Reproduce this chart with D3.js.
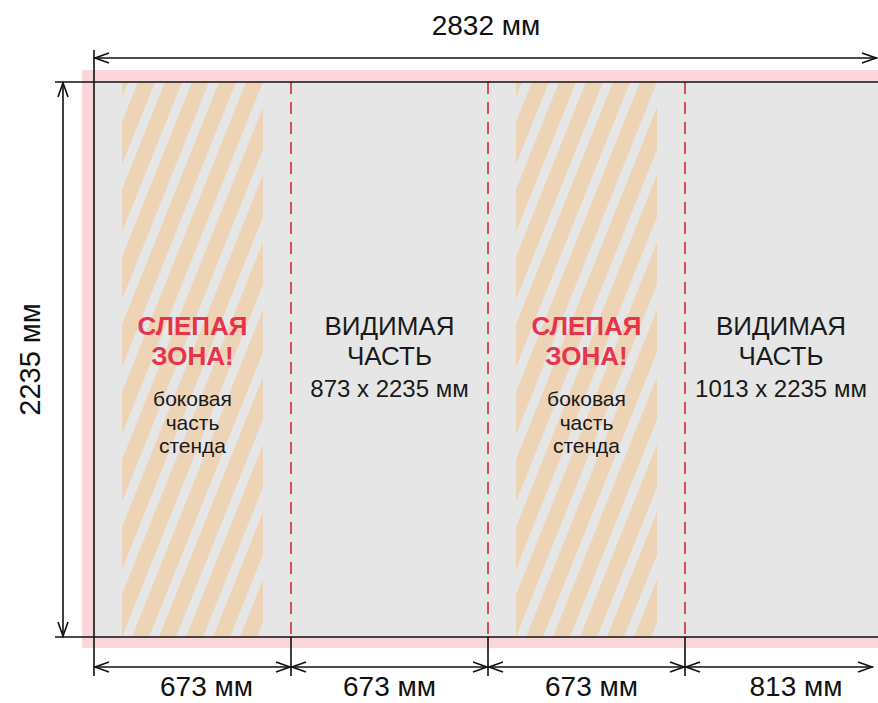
<!DOCTYPE html>
<html><head><meta charset="utf-8">
<script src="https://cdn.jsdelivr.net/npm/d3@7/dist/d3.min.js"></script>
<style>html,body{margin:0;padding:0;background:#fff;}svg{display:block;}</style>
</head><body>
<script>
// ---- data ----
const totalWidthMm = 2832;
const heightMm = 2235;
const panelKinds = ["blind", "visible", "blind", "visible"];
const panelWidthsMm = [673, 673, 673, 813];
const bottomLabels = ["673 мм", "673 мм", "673 мм", "813 мм"];
const topLabel = "2832 мм";
const sideLabel = "2235 мм";
const blindTitle = ["СЛЕПАЯ", "ЗОНА!"];
const blindSub = ["боковая", "часть", "стенда"];
const visibleTitle = ["ВИДИМАЯ", "ЧАСТЬ"];
const visibleSizes = ["873 x 2235 мм", "1013 x 2235 мм"];

// ---- layout ----
const W = 878, H = 703;
const FONT = "'Liberation Sans', 'Noto Sans', sans-serif";
const pxPerMm = 197 / 673;
const x = d3.scaleLinear().domain([0, totalWidthMm]).range([94, 94 + totalWidthMm * pxPerMm]);
const y = d3.scaleLinear().domain([0, heightMm]).range([82, 637]);
const xMax = W - 1;
const clipX = v => Math.min(v, xMax);

const svg = d3.select("body").append("svg").attr("width", W).attr("height", H);
const defs = svg.append("defs");

let acc = 0;
const panels = panelWidthsMm.map((w, i) => { const p = {i, kind: panelKinds[i], x0: acc, x1: acc + w}; acc += w; return p; });

// bleed (pink)
svg.append("rect").attr("x", x(0) - 12).attr("y", y(0) - 12)
  .attr("width", W - (x(0) - 12)).attr("height", y(heightMm) - y(0) + 23)
  .attr("fill", "#fad5da");
// board (gray)
svg.append("rect").attr("x", x(0)).attr("y", y(0))
  .attr("width", W - x(0)).attr("height", y(heightMm) - y(0))
  .attr("fill", "#e6e6e6");

// stripes for blind zones
const inset = 28;
const slope = 0.4;
const period = 27, tanW = 17;
panels.filter(p => p.kind === "blind").forEach((p, k) => {
  const zx0 = x(p.x0) + inset, zx1 = x(p.x1) - inset;
  const top = y(0), bot = y(heightMm);
  const id = "clip" + k;
  defs.append("clipPath").attr("id", id).append("rect")
    .attr("x", zx0).attr("y", top).attr("width", zx1 - zx0).attr("height", bot - top);
  const g = svg.append("g").attr("clip-path", `url(#${id})`);
  const shift = (bot - top) * slope;
  const starts = d3.range(zx0 - period * 2, zx1 + shift + period, period);
  g.selectAll("polygon").data(starts).join("polygon")
    .attr("points", a => [[a + 16 - period, top], [a + 16 - period + tanW, top], [a + 16 - period + tanW - shift, bot], [a + 16 - period - shift, bot]].map(q => q.join(",")).join(" "))
    .attr("fill", "#eed4b7");
});

// dashed panel dividers
const dividers = panels.slice(1).map(p => p.x0);
svg.selectAll("line.div").data(dividers).join("line").attr("class", "div")
  .attr("x1", d => x(d)).attr("x2", d => x(d)).attr("y1", y(0)).attr("y2", y(heightMm))
  .attr("stroke", "#d42a35").attr("stroke-width", 1.6).attr("stroke-dasharray", "12,8");

// black edges
const lineG = svg.append("g").attr("stroke", "#111").attr("stroke-width", 1.6).attr("fill", "none");
lineG.append("line").attr("x1", 55).attr("x2", W).attr("y1", y(0)).attr("y2", y(0));
lineG.append("line").attr("x1", 55).attr("x2", W).attr("y1", y(heightMm)).attr("y2", y(heightMm));
lineG.append("line").attr("x1", x(0)).attr("x2", x(0)).attr("y1", 50).attr("y2", 676);
lineG.selectAll("line.tick").data(dividers).join("line").attr("class", "tick")
  .attr("x1", d => x(d)).attr("x2", d => x(d)).attr("y1", y(heightMm)).attr("y2", 676);

// arrows
function hArrow(xa, xb, yy) {
  lineG.append("line").attr("x1", xa).attr("x2", xb).attr("y1", yy).attr("y2", yy);
  lineG.append("path").attr("d", `M${xa + 15},${yy - 5}L${xa + 1},${yy}L${xa + 15},${yy + 5}`);
  lineG.append("path").attr("d", `M${xb - 15},${yy - 5}L${xb - 1},${yy}L${xb - 15},${yy + 5}`);
}
function vArrow(xx, ya, yb) {
  lineG.append("line").attr("x1", xx).attr("x2", xx).attr("y1", ya).attr("y2", yb);
  lineG.append("path").attr("d", `M${xx - 5},${ya + 15}L${xx},${ya + 1}L${xx + 5},${ya + 15}`);
  lineG.append("path").attr("d", `M${xx - 5},${yb - 15}L${xx},${yb - 1}L${xx + 5},${yb - 15}`);
}
hArrow(x(0), clipX(x(totalWidthMm)), 58);
vArrow(63, y(0), y(heightMm));
panels.forEach(p => hArrow(x(p.x0), clipX(x(p.x1)) - (x(p.x1) > xMax ? 4 : 0), 667));

// texts
const txt = svg.append("g").attr("font-family", FONT).attr("text-anchor", "middle");
txt.append("text").attr("x", (x(0) + W) / 2).attr("y", 35).attr("font-size", 28).attr("fill", "#111").text(topLabel);
txt.append("text").attr("transform", `translate(40,${(y(0) + y(heightMm)) / 2}) rotate(-90)`)
  .attr("font-size", 29).attr("fill", "#111").text(sideLabel);

const labelDx = [14, 0, 5, 15];
panels.forEach((p, i) => {
  const cx = (x(p.x0) + clipX(x(p.x1))) / 2;
  txt.append("text").attr("x", cx + labelDx[i]).attr("y", 696).attr("font-size", 28).attr("fill", "#111").text(bottomLabels[i]);
});

let vi = 0;
panels.forEach(p => {
  const cx = (x(p.x0) + clipX(x(p.x1))) / 2;
  if (p.kind === "blind") {
    blindTitle.forEach((t, j) => txt.append("text").attr("x", cx).attr("y", 335 + j * 30)
      .attr("font-size", 26).attr("font-weight", "bold").attr("fill", "#e8334b").text(t));
    blindSub.forEach((t, j) => txt.append("text").attr("x", cx).attr("y", 406 + j * 23.5)
      .attr("font-size", 21).attr("fill", "#1a1a1a").text(t));
  } else {
    visibleTitle.forEach((t, j) => txt.append("text").attr("x", cx).attr("y", 335 + j * 30)
      .attr("font-size", 26).attr("fill", "#1a1a1a").text(t));
    txt.append("text").attr("x", cx).attr("y", 397).attr("font-size", 24).attr("fill", "#1a1a1a").text(visibleSizes[vi++]);
  }
});
</script>
</body></html>
